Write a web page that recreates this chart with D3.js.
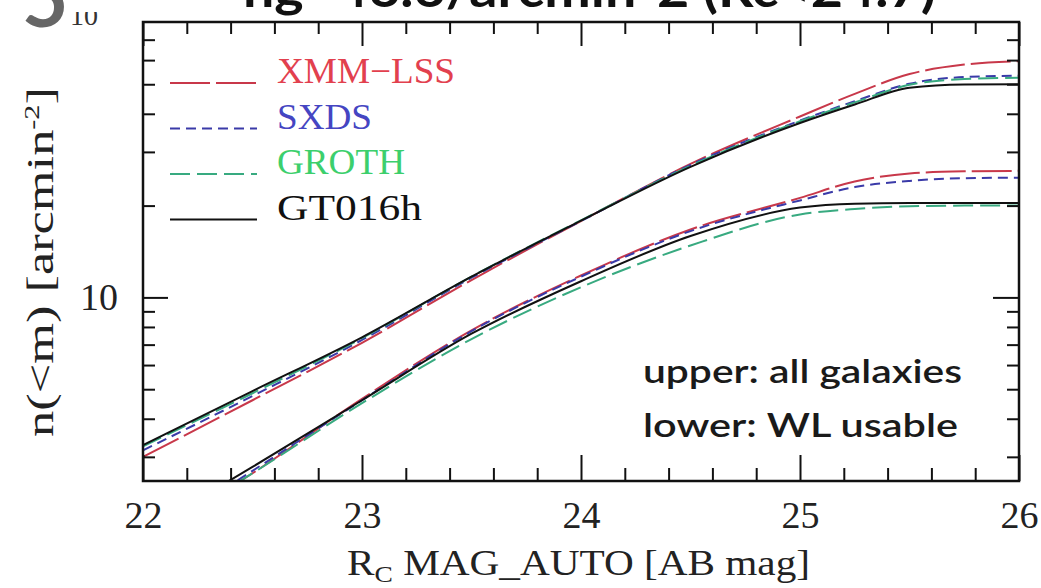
<!DOCTYPE html>
<html>
<head>
<meta charset="utf-8">
<script src="https://cdn.jsdelivr.net/npm/d3@7"></script>
<style>
  body { margin: 0; background: #fff; }
  svg { display: block; }
  .serif { font-family: "Liberation Serif", "Times New Roman", serif; }
</style>
</head>
<body>
<svg width="1041" height="588"></svg>
<script>
// R_C magnitude grid
const mags = [22, 22.5, 23, 23.5, 24, 24.5, 25, 25.25, 25.5, 25.75, 26];

// upper: all galaxies
const xmmAll = [3.0, 4.6, 7.1, 11.4, 17.8, 27.4, 39.2, 46.5, 54.0, 58.0, 59.5];
const sxdsAll = [3.15, 4.75, 7.25, 11.6, 17.8, 27.2, 38.0, 44.0, 50.2, 52.8, 53.3];
const grothAll = [3.25, 4.85, 7.35, 11.7, 17.9, 27.0, 37.8, 43.6, 49.8, 52.0, 52.5];
const gt16All = [3.28, 4.93, 7.4, 11.7, 17.85, 26.8, 37.3, 42.9, 48.7, 49.9, 50.0];

// lower: WL usable
const xmmWL = [1.6, 2.65, 4.65, 7.8, 11.8, 16.7, 21.2, 24.0, 25.5, 25.9, 26.0];
const sxdsWL = [1.6, 2.7, 4.6, 7.75, 11.7, 16.5, 20.8, 23.0, 24.1, 24.6, 24.7];
const grothWL = [1.6, 2.65, 4.5, 7.3, 10.8, 14.8, 18.7, 19.5, 19.9, 20.0, 20.0];
const gt16WL = [1.7, 2.78, 4.6, 7.6, 11.3, 15.9, 19.7, 20.3, 20.4, 20.4, 20.4];

const fields = ["XMM\u2212LSS", "SXDS", "GROTH", "GT016h"];
const xTicks = [22, 23, 24, 25, 26];
const yTicks = [10];

const lineColor = { "XMM\u2212LSS": "#c8384a", SXDS: "#3a3aa8", GROTH: "#38aa80", GT016h: "#111" };
const textColor = { "XMM\u2212LSS": "#e2404e", SXDS: "#4545c2", GROTH: "#3ccf6c", GT016h: "#111" };
const dashes = { "XMM\u2212LSS": "40,6", SXDS: "10,6", GROTH: "20,7", GT016h: null };
const legendWidth = { "XMM\u2212LSS": 178, SXDS: 95, GROTH: 128, GT016h: 145 };

const series = [
  { name: "XMM\u2212LSS", values: xmmAll },
  { name: "SXDS", values: sxdsAll },
  { name: "GROTH", values: grothAll },
  { name: "GT016h", values: gt16All },
  { name: "XMM\u2212LSS", values: xmmWL },
  { name: "SXDS", values: sxdsWL },
  { name: "GROTH", values: grothWL },
  { name: "GT016h", values: gt16WL },
];

const frame = { left: 143, right: 1019, top: 22, bottom: 481 };

const svg = d3.select("svg");

const x = d3.scaleLinear().domain([22, 26]).range([frame.left, frame.right]);
const y = d3.scaleLog().domain([2.5, 80]).range([frame.bottom, frame.top]);

// slide leftovers cut off at the top
svg.append("text")
  .attr("x", 22).attr("y", 27)
  .attr("font-family", "Lato, sans-serif").attr("font-weight", "bold")
  .attr("font-size", 80).attr("fill", "#666")
  .text("5");

svg.append("clipPath").attr("id", "cut")
  .append("rect").attr("x", 0).attr("y", 12).attr("width", 140).attr("height", 30);
svg.append("text")
  .attr("class", "serif")
  .attr("clip-path", "url(#cut)")
  .attr("x", 70).attr("y", 25)
  .attr("font-size", 28).attr("fill", "#333")
  .text("10");

svg.append("text")
  .attr("x", 243).attr("y", 7)
  .attr("font-family", "Lato, sans-serif").attr("font-weight", "bold")
  .attr("font-size", 50).attr("fill", "#111")
  .attr("textLength", 693).attr("lengthAdjust", "spacingAndGlyphs")
  .text("ng~46.6/arcmin-2 (Rc<24.7)");

// curves
svg.append("clipPath").attr("id", "plot")
  .append("rect")
  .attr("x", frame.left).attr("y", frame.top)
  .attr("width", frame.right - frame.left).attr("height", frame.bottom - frame.top);

const line = d3.line()
  .x((d, i) => x(mags[i]))
  .y((d) => y(d))
  .curve(d3.curveMonotoneX);

svg.append("g")
  .attr("clip-path", "url(#plot)")
  .selectAll("path")
  .data(series)
  .join("path")
  .attr("d", (d) => line(d.values))
  .attr("fill", "none")
  .attr("stroke", (d) => lineColor[d.name])
  .attr("stroke-width", 2)
  .attr("stroke-dasharray", (d) => dashes[d.name]);

// axes, ticks point inward
function styleAxis(g) {
  g.select(".domain").remove();
  g.selectAll("line").attr("stroke", "#111").attr("stroke-width", 2);
  g.selectAll("text")
    .attr("class", "serif")
    .attr("font-size", 38)
    .attr("fill", "#222");
}

const xMinor = d3.range(22, 26.01, 0.2).filter((v) => Math.abs(v - Math.round(v)) > 0.01);
const yMinor = [3, 4, 5, 6, 7, 8, 9, 20, 30, 40, 50, 60, 70];

svg.append("g")
  .attr("transform", `translate(0,${frame.bottom})`)
  .call(d3.axisBottom(x).tickValues(xTicks).tickSize(-26).tickPadding(20).tickFormat(d3.format("d")))
  .call(styleAxis);
svg.append("g")
  .attr("transform", `translate(0,${frame.bottom})`)
  .call(d3.axisBottom(x).tickValues(xMinor).tickSize(-13).tickFormat(""))
  .call(styleAxis);
svg.append("g")
  .attr("transform", `translate(0,${frame.top})`)
  .call(d3.axisTop(x).tickValues(xTicks).tickSize(-24).tickFormat(""))
  .call(styleAxis);
svg.append("g")
  .attr("transform", `translate(0,${frame.top})`)
  .call(d3.axisTop(x).tickValues(xMinor).tickSize(-12).tickFormat(""))
  .call(styleAxis);

svg.append("g")
  .attr("transform", `translate(${frame.left},0)`)
  .call(d3.axisLeft(y).tickValues(yTicks).tickSize(-25).tickPadding(25).tickFormat(d3.format("d")))
  .call(styleAxis);
svg.append("g")
  .attr("transform", `translate(${frame.left},0)`)
  .call(d3.axisLeft(y).tickValues(yMinor).tickSize(-12).tickFormat(""))
  .call(styleAxis);
svg.append("g")
  .attr("transform", `translate(${frame.right},0)`)
  .call(d3.axisRight(y).tickValues(yTicks).tickSize(-26).tickFormat(""))
  .call(styleAxis);
svg.append("g")
  .attr("transform", `translate(${frame.right},0)`)
  .call(d3.axisRight(y).tickValues(yMinor).tickSize(-12).tickFormat(""))
  .call(styleAxis);

svg.append("rect")
  .attr("x", frame.left).attr("y", frame.top)
  .attr("width", frame.right - frame.left).attr("height", frame.bottom - frame.top)
  .attr("fill", "none").attr("stroke", "#111").attr("stroke-width", 2.5);

// legend
const legend = svg.append("g")
  .selectAll("g")
  .data(fields)
  .join("g")
  .attr("transform", (d, i) => `translate(170,${83 + i * 45.5})`);

legend.append("line")
  .attr("x1", 0).attr("x2", 87)
  .attr("stroke", (d) => lineColor[d])
  .attr("stroke-width", 2)
  .attr("stroke-dasharray", (d) => dashes[d]);

legend.append("text")
  .attr("class", "serif")
  .attr("x", 107).attr("y", 0)
  .attr("font-size", 36)
  .attr("fill", (d) => textColor[d])
  .attr("textLength", (d) => legendWidth[d])
  .attr("lengthAdjust", "spacingAndGlyphs")
  .text((d) => d);

// note
svg.append("text")
  .attr("x", 643).attr("y", 383)
  .attr("font-family", "Lato, sans-serif").attr("font-size", 33).attr("font-weight", 600)
  .attr("fill", "#1a1a1a")
  .attr("textLength", 319).attr("lengthAdjust", "spacingAndGlyphs")
  .text("upper: all galaxies");
svg.append("text")
  .attr("x", 643).attr("y", 437)
  .attr("font-family", "Lato, sans-serif").attr("font-size", 33).attr("font-weight", 600)
  .attr("fill", "#1a1a1a")
  .attr("textLength", 315).attr("lengthAdjust", "spacingAndGlyphs")
  .text("lower: WL usable");

// axis titles
const xTitle = svg.append("text")
  .attr("class", "serif")
  .attr("x", 347).attr("y", 575)
  .attr("font-size", 36).attr("fill", "#222")
  .attr("textLength", 463).attr("lengthAdjust", "spacingAndGlyphs");
xTitle.append("tspan").text("R");
xTitle.append("tspan").attr("dy", 7).attr("font-size", 24).text("C");
xTitle.append("tspan").attr("dy", -7).text(" MAG_AUTO [AB mag]");

const yTitle = svg.append("text")
  .attr("class", "serif")
  .attr("transform", "translate(53,262) rotate(-90)")
  .attr("text-anchor", "middle")
  .attr("font-size", 38).attr("fill", "#222")
  .attr("textLength", 350).attr("lengthAdjust", "spacingAndGlyphs");
yTitle.append("tspan").text("n(<m) [arcmin");
yTitle.append("tspan").attr("dy", -14).attr("font-size", 22).text("-2");
yTitle.append("tspan").attr("dy", 14).text("]");
</script>
</body>
</html>
